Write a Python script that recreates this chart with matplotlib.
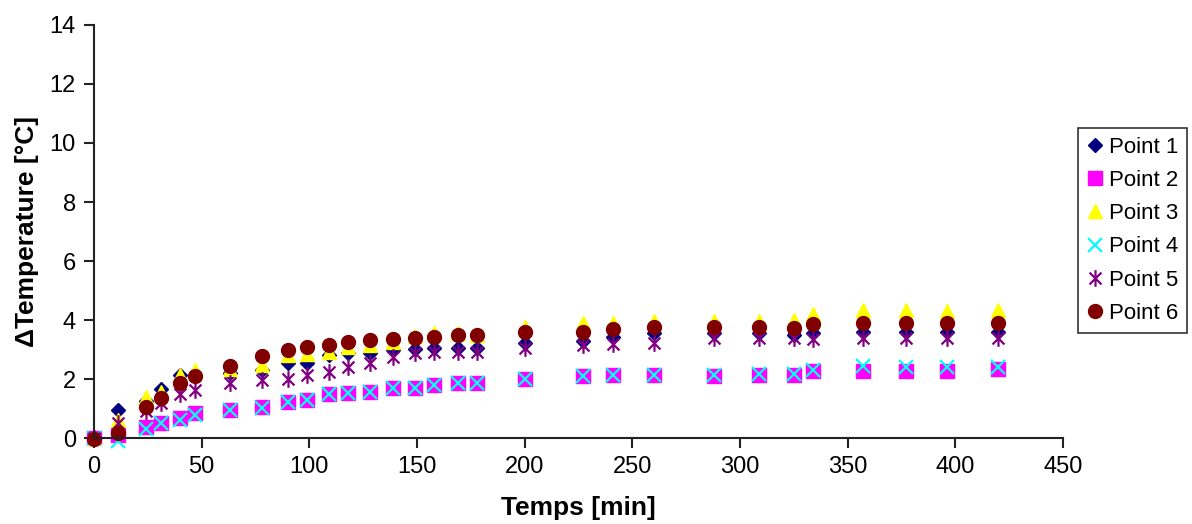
import numpy as np
import matplotlib.pyplot as plt
from matplotlib.path import Path

plt.rcParams['font.family'] = ['Liberation Sans', 'DejaVu Sans']

# Data
temps = [0, 11, 24, 31, 40, 47, 63, 78, 90, 99, 109, 118, 128, 139, 149,
         158, 169, 178, 200, 227, 241, 260, 288, 309, 325, 334, 357, 377, 396, 420]

point1 = [0, 0.95, 1.25, 1.65, 2.15, 2.1, 2.2, 2.3, 2.55, 2.55, 2.81, 2.87, 2.89, 3.0, 3.02,
          3.04, 3.06, 3.06, 3.21, 3.3, 3.41, 3.55, 3.55, 3.55, 3.5, 3.57, 3.6, 3.6, 3.6, 3.6]
point2 = [0, 0.1, 0.36, 0.52, 0.67, 0.84, 0.95, 1.06, 1.23, 1.29, 1.49, 1.54, 1.57, 1.68, 1.7,
          1.8, 1.85, 1.85, 1.99, 2.1, 2.14, 2.14, 2.1, 2.14, 2.14, 2.27, 2.27, 2.27, 2.27, 2.34]
point3 = [0, 0.6, 1.4, 1.57, 2.15, 2.3, 2.33, 2.47, 2.8, 2.85, 2.93, 3.1, 3.15, 3.27, 3.45,
          3.55, 3.55, 3.5, 3.77, 3.9, 3.9, 3.96, 3.96, 3.96, 4.0, 4.22, 4.34, 4.34, 4.32, 4.34]
point4 = [0, -0.1, 0.3, 0.5, 0.6, 0.78, 0.95, 1.02, 1.23, 1.29, 1.49, 1.54, 1.57, 1.68, 1.7,
          1.8, 1.85, 1.85, 1.99, 2.1, 2.14, 2.14, 2.15, 2.16, 2.18, 2.3, 2.44, 2.42, 2.42, 2.42]
point5 = [0, 0.5, 0.9, 1.2, 1.5, 1.63, 1.85, 1.97, 1.99, 2.14, 2.25, 2.42, 2.55, 2.76, 2.87,
          2.93, 2.93, 2.93, 3.04, 3.15, 3.2, 3.23, 3.38, 3.38, 3.38, 3.35, 3.4, 3.4, 3.38, 3.4]
point6 = [-0.05, 0.18, 1.06, 1.35, 1.85, 2.1, 2.44, 2.78, 2.98, 3.1, 3.15, 3.27, 3.32, 3.37, 3.4,
          3.44, 3.49, 3.49, 3.61, 3.6, 3.68, 3.77, 3.77, 3.75, 3.72, 3.86, 3.89, 3.89, 3.89, 3.89]

labels = ["Point 1", "Point 2", "Point 3", "Point 4", "Point 5", "Point 6"]

# Excel-like "star": an X with a vertical bar
star = Path([(-1, -1), (1, 1), (-1, 1), (1, -1), (0, -1.4), (0, 1.4)],
            [Path.MOVETO, Path.LINETO, Path.MOVETO, Path.LINETO, Path.MOVETO, Path.LINETO])

styles = [
    dict(marker="D", color="#000080", ms=7.5),
    dict(marker="s", color="#FF00FF", ms=9.5),
    dict(marker="^", color="#FFFF00", ms=10.5),
    dict(marker="x", color="#00FFFF", ms=10.5, mew=1.6),
    dict(marker=star, color="#800080", ms=12, mew=1.6),
    dict(marker="o", color="#800000", ms=10),
]

fig = plt.figure(figsize=(11.92, 5.24), dpi=100)
ax = fig.add_axes([0.0789, 0.1641, 0.8129, 0.7882])

series = [point1, point2, point3, point4, point5, point6]
for vals, lab, st in zip(series, labels, styles):
    ax.plot(temps, vals, linestyle="none", marker=st["marker"], color=st["color"],
            markersize=st["ms"], markeredgewidth=st.get("mew", 1.0),
            label=lab, clip_on=False)

ax.set_xlim(0, 450)
ax.set_ylim(0, 14)
ax.set_xticks(np.arange(0, 451, 50))
ax.set_yticks(np.arange(0, 15, 2))

for side in ["top", "right"]:
    ax.spines[side].set_visible(False)
for side in ["left", "bottom"]:
    ax.spines[side].set_linewidth(1.5)
    ax.spines[side].set_color("#222222")
ax.tick_params(direction="out", length=7, width=1.5, labelsize=17, color="#222222", pad=6)

ax.set_xlabel("Temps [min]", fontsize=19, fontweight="bold", labelpad=13)
ax.set_ylabel("ΔTemperature [°C]", fontsize=19, fontweight="bold", labelpad=8)

leg = ax.legend(loc="upper left", bbox_to_anchor=(0.904, 0.756), bbox_transform=fig.transFigure,
                fontsize=16, frameon=True, fancybox=False, edgecolor="black",
                handlelength=0.8, handletextpad=0.2, labelspacing=0.55,
                borderpad=0.4, borderaxespad=0, numpoints=1)
leg.get_frame().set_linewidth(1.2)

fig.savefig("out.png", dpi=100)
